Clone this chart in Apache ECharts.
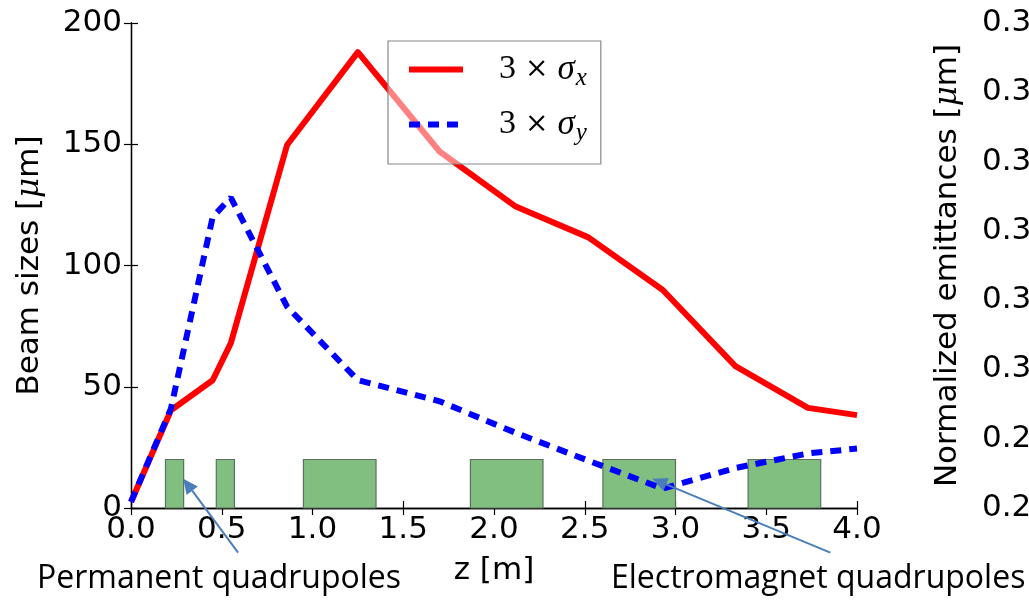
<!DOCTYPE html>
<html>
<head>
<meta charset="utf-8">
<script src="https://cdn.jsdelivr.net/npm/echarts@6/dist/echarts.min.js"></script>
<style>
  html, body { margin: 0; padding: 0; background: #ffffff; }
  #chart { width: 1029px; height: 604px; }
</style>
</head>
<body>
<div id="chart"></div>
<script>
// Beam envelope along the transport line (z in metres, sizes in micrometres)
const zPositions = [0, 0.22, 0.45, 0.55, 0.86, 1.25, 1.70, 2.12, 2.52, 2.93, 3.33, 3.73, 4.0];
const sigmaX3 = [2.5, 40.3, 52.7, 68, 149.7, 188, 147, 124.3, 111.6, 89.9, 58.5, 41.3, 38.3];
const sigmaY3 = [2.5, 41, 120, 128, 83, 52.7, 44, 31, 19.5, 8, 16.5, 22.5, 24.5];

// Quadrupole magnets: start / end positions along z, drawn as blocks of fixed height
const quadStart = [0.19, 0.47, 0.95, 1.87, 2.60, 3.40];
const quadEnd = [0.29, 0.57, 1.35, 2.27, 3.00, 3.80];
const quadHeight = 20;

// Right-hand axis labels, bottom to top
const emittanceLabels = ['0.2', '0.2', '0.3', '0.3', '0.3', '0.3', '0.3', '0.3'];

// Callout arrows (data coordinates: tail below the axis, head on a magnet)
const calloutText = ['Permanent quadrupoles', 'Electromagnet quadrupoles'];
const calloutTail = [[0.59, -18.4], [3.853, -18.4]];
const calloutHead = [[0.288, 12.1], [2.872, 12.1]];

const seriesNames = ['3×σx', '3×σy'];

const tickFont = { color: '#000', fontSize: 31, fontFamily: 'DejaVu Sans' };
const axisLineStyle = { color: '#000', width: 1.3 };
const tickStyle = { inside: true, length: 7, lineStyle: { color: '#000', width: 1.2 } };
const muRich = { mu: { fontSize: 31, fontFamily: 'DejaVu Serif', fontStyle: 'italic', color: '#000' } };

const chart = echarts.init(document.getElementById('chart'), null, { renderer: 'canvas' });

const option = {
  animation: false,
  backgroundColor: '#ffffff',
  grid: { left: 131, right: 172, top: 23, bottom: 96, containLabel: false, outerBoundsMode: 'none' },
  legend: {
    left: 388,
    top: 41,
    orient: 'vertical',
    selectedMode: false,
    padding: [7, 14, 18, 18],
    itemWidth: 54,
    itemHeight: 30,
    itemGap: 12,
    backgroundColor: 'rgba(255,255,255,0.5)',
    borderColor: '#888888',
    borderWidth: 1.2,
    borderRadius: 0,
    lineStyle: { width: 6 },
    itemStyle: { opacity: 0 },
    data: seriesNames,
    formatter: function (name) {
      const sub = name === seriesNames[0] ? 'x' : 'y';
      return '{n|3}{t|×}{s|σ}{sub|' + sub + '}';
    },
    textStyle: {
      color: '#000',
      rich: {
        n: { fontFamily: 'Liberation Serif', fontSize: 34, lineHeight: 40, padding: [0, 0, 0, 31], color: '#000' },
        t: { fontFamily: 'DejaVu Serif', fontSize: 28, lineHeight: 40, padding: [0, 9, 0, 9], color: '#000' },
        s: { fontFamily: 'Liberation Serif', fontStyle: 'italic', fontSize: 35, lineHeight: 40, color: '#000' },
        sub: { fontFamily: 'Liberation Serif', fontStyle: 'italic', fontSize: 25, lineHeight: 22, padding: [18, 0, 0, 1], color: '#000' }
      }
    }
  },
  xAxis: [
    {
      type: 'value', min: 0, max: 4, interval: 0.5, position: 'bottom',
      axisLine: { show: true, lineStyle: axisLineStyle },
      axisTick: tickStyle,
      splitLine: { show: false },
      axisLabel: Object.assign({ margin: 6, formatter: v => v.toFixed(1) }, tickFont),
      name: 'z [m]', nameLocation: 'middle', nameGap: 47, nameMoveOverlap: false,
      nameTextStyle: { color: '#000', fontSize: 31, fontFamily: 'DejaVu Sans' }
    },
    {
      type: 'value', min: 0, max: 4, interval: 0.5, position: 'top',
      axisLine: { show: true, lineStyle: axisLineStyle },
      axisTick: tickStyle,
      splitLine: { show: false },
      axisLabel: { show: false }
    }
  ],
  yAxis: [
    {
      type: 'value', min: 0, max: 200, interval: 50, position: 'left',
      axisLine: { show: true, lineStyle: axisLineStyle },
      axisTick: tickStyle,
      splitLine: { show: false },
      axisLabel: Object.assign({ margin: 9 }, tickFont),
      name: 'Beam sizes [{mu|μ}m]', nameLocation: 'middle', nameRotate: 90, nameGap: 86, nameMoveOverlap: false,
      nameTextStyle: { color: '#000', fontSize: 31, fontFamily: 'DejaVu Sans', rich: muRich }
    },
    {
      type: 'value', min: 0, max: 200, interval: 50, position: 'right', offset: 0,
      axisLine: { show: true, lineStyle: axisLineStyle },
      axisTick: tickStyle,
      splitLine: { show: false },
      axisLabel: { show: false }
    },
    {
      type: 'value', min: 0, max: 7, interval: 1, position: 'right', offset: 0,
      axisLine: { show: false },
      axisTick: { show: false },
      splitLine: { show: false },
      axisLabel: Object.assign({ margin: 125, formatter: v => emittanceLabels[v] }, tickFont),
      name: 'Normalized emittances [{mu|μ}m]', nameLocation: 'middle', nameRotate: 90, nameGap: 75, nameMoveOverlap: false,
      nameTextStyle: { color: '#000', fontSize: 31, fontFamily: 'DejaVu Sans', rich: muRich }
    }
  ],
  series: [
    {
      name: 'quadrupoles',
      type: 'custom',
      xAxisIndex: 0, yAxisIndex: 0,
      z: 1,
      silent: true,
      encode: { x: [0, 1], y: 2 },
      data: quadStart.map((s, i) => [s, quadEnd[i], quadHeight]),
      renderItem: function (params, api) {
        const topLeft = api.coord([api.value(0), api.value(2)]);
        const bottomRight = api.coord([api.value(1), 0]);
        return {
          type: 'rect',
          shape: {
            x: topLeft[0], y: topLeft[1],
            width: bottomRight[0] - topLeft[0], height: bottomRight[1] - topLeft[1]
          },
          style: { fill: '#80bf80', stroke: '#5f6f5f', lineWidth: 1.2 }
        };
      }
    },
    {
      name: seriesNames[0],
      type: 'line',
      xAxisIndex: 0, yAxisIndex: 0,
      z: 2,
      symbol: 'none',
      showSymbol: false,
      data: zPositions.map((z, i) => [z, sigmaX3[i]]),
      lineStyle: { color: '#ff0000', width: 6, join: 'round' },
      itemStyle: { color: '#ff0000' }
    },
    {
      name: seriesNames[1],
      type: 'line',
      xAxisIndex: 0, yAxisIndex: 0,
      z: 3,
      symbol: 'none',
      showSymbol: false,
      data: zPositions.map((z, i) => [z, sigmaY3[i]]),
      lineStyle: { color: '#0000ff', width: 6, type: [11, 8], cap: 'butt' },
      itemStyle: { color: '#0000ff' }
    }
  ]
};

chart.setOption(option);

// Callout arrows and captions, placed through the axes' own scales
const arrowColor = '#4a7ebb';
const graphics = [];
calloutTail.forEach(function (tail, i) {
  const p0 = chart.convertToPixel({ xAxisIndex: 0, yAxisIndex: 0 }, tail);
  const p1 = chart.convertToPixel({ xAxisIndex: 0, yAxisIndex: 0 }, calloutHead[i]);
  const dx = p1[0] - p0[0], dy = p1[1] - p0[1];
  const len = Math.sqrt(dx * dx + dy * dy);
  const ux = dx / len, uy = dy / len;
  const headLen = 15, headHalf = 7;
  const bx = p1[0] - ux * headLen, by = p1[1] - uy * headLen;
  graphics.push({
    type: 'line', z: 100,
    shape: { x1: p0[0], y1: p0[1], x2: bx, y2: by },
    style: { stroke: arrowColor, lineWidth: 2 }
  });
  graphics.push({
    type: 'polygon', z: 100,
    shape: { points: [[p1[0], p1[1]], [bx - uy * headHalf, by + ux * headHalf], [bx + uy * headHalf, by - ux * headHalf]] },
    style: { fill: arrowColor }
  });
});
graphics.push({
  type: 'text', z: 100, x: 37, y: 579,
  style: { text: calloutText[0], fill: '#000', fontSize: 32, fontFamily: 'Open Sans', verticalAlign: 'middle' }
});
graphics.push({
  type: 'text', z: 100, x: 611, y: 579,
  style: { text: calloutText[1], fill: '#000', fontSize: 32, fontFamily: 'Open Sans', verticalAlign: 'middle' }
});
chart.setOption({ graphic: graphics });
</script>
</body>
</html>
